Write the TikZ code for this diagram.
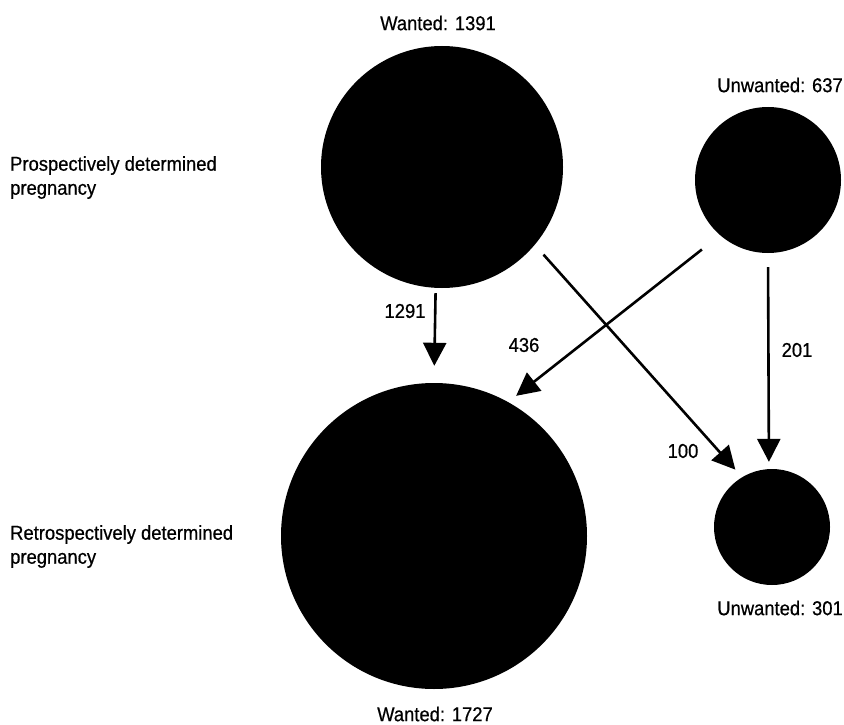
\documentclass[tikz,border=0pt]{standalone}
\usepackage{fontspec}
\setmainfont{Liberation Sans}[FakeStretch=0.92, FakeBold=0.6]
\usetikzlibrary{arrows.meta}
\tikzset{
	ball/.style={circle, fill=black, inner sep=0pt},
	flow/.style={line width=2.6pt, -{Triangle[length=23pt,width=23pt]}},
	lbl/.style={font=\fontsize{20}{24}\selectfont, inner sep=0pt},
}
\begin{document}
\begin{tikzpicture}[x=1pt, y=-1pt]
		\useasboundingbox (0,0) rectangle (844,725);
		
		% 四个圆
		\node[ball, minimum size=242pt] (W1) at (442,167) {};
		\node[ball, minimum size=146pt] (U1) at (768,180) {};
		\node[ball, minimum size=306pt] (W2) at (434,536) {};
		\node[ball, minimum size=116pt] (U2) at (772,527) {};
		
		% 圆的标注
		\node[lbl] (tW1) at (438,23) {Wanted: 1391};
		\node[lbl, anchor=east] (tU1) at (843,85) {Unwanted: 637};
		\node[lbl] (tW2) at (435,714) {Wanted: 1727};
		\node[lbl, anchor=east] (tU2) at (843,608) {Unwanted: 301};
		
		% 左侧文字
		\node[lbl, align=left, anchor=north west] (pros) at (10,156) {Prospectively determined\\pregnancy};
		\node[lbl, align=left, anchor=north west] (retro) at (10,525) {Retrospectively determined\\pregnancy};
		
		% 箭头
		\draw[flow, shorten <=5pt, shorten >=17pt] (W1.-93.6) -- (W2.90);
		\draw[flow, shorten <=23pt, shorten >=10pt] (U1.-131.6) -- (W2.61.1);
		\draw[flow, shorten <=13pt, shorten >=10pt] (W1.-40.5) -- (U2.121.1);
		\draw[flow, shorten <=14pt, shorten >=7pt] (U1.-90) -- (U2.93.5);
		
		% 箭头上的数字
		\node[lbl] (n1291) at (405,311) {1291};
		\node[lbl] (n436) at (524,345) {436};
		\node[lbl] (n100) at (683,451) {100};
		\node[lbl] (n201) at (797,350) {201};
	\end{tikzpicture}
\end{document}
